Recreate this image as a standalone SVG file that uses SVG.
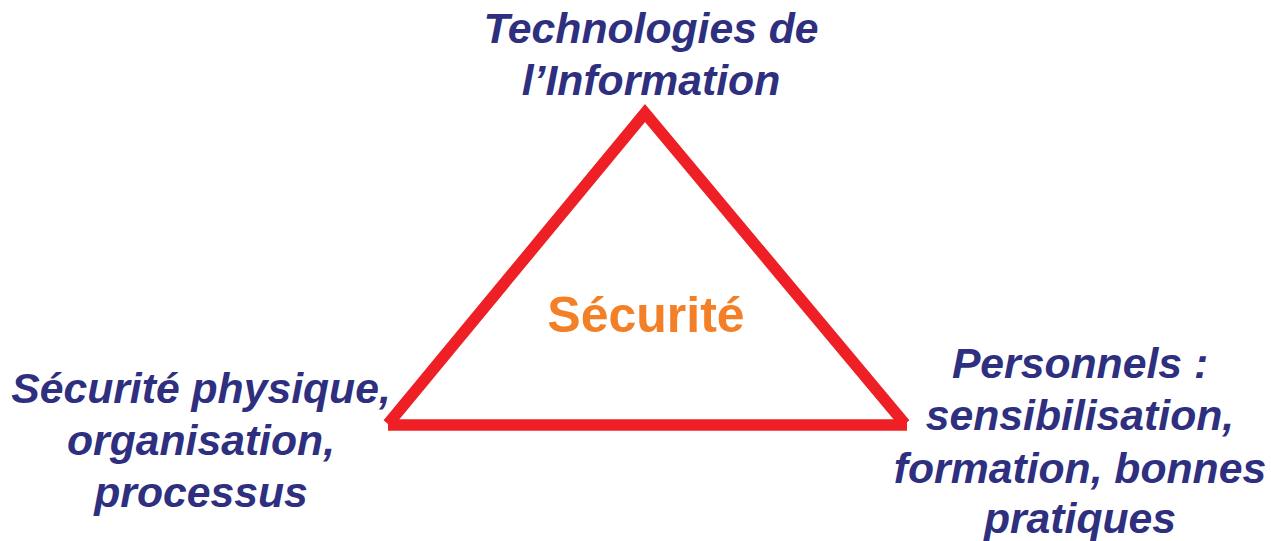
<svg xmlns="http://www.w3.org/2000/svg" width="1271" height="541" viewBox="0 0 1271 541">
<style>
.lbl{font-family:"Liberation Sans",Arial,sans-serif;font-weight:bold;font-style:italic;font-size:42.7px;fill:#2e2f7f;text-anchor:middle}
.ctr{font-family:"Liberation Sans",Arial,sans-serif;font-weight:bold;font-size:50px;fill:#f37f27;text-anchor:middle}
.edge{fill:none;stroke:#ee1f25;stroke-width:11.5;stroke-linecap:butt}
</style>
<rect width="1271" height="541" fill="#ffffff"/>
<g id="connectors">
<polyline class="edge" points="388,424 645,113 905,424" stroke-linejoin="miter"/>
<line class="edge" x1="388" y1="425" x2="907" y2="425"/>
</g>
<g id="node-center"><text class="ctr" x="646" y="332">Sécurité</text></g>
<g id="node-top">
<text class="lbl" x="651" y="43">Technologies de</text>
<text class="lbl" x="651" y="95">l’Information</text>
</g>
<g id="node-left">
<text class="lbl" x="201" y="403">Sécurité physique,</text>
<text class="lbl" x="201" y="455">organisation,</text>
<text class="lbl" x="201" y="507">processus</text>
</g>
<g id="node-right">
<text class="lbl" x="1080" y="378">Personnels :</text>
<text class="lbl" x="1080" y="430">sensibilisation,</text>
<text class="lbl" x="1080" y="483">formation, bonnes</text>
<text class="lbl" x="1080" y="533">pratiques</text>
</g>
</svg>
